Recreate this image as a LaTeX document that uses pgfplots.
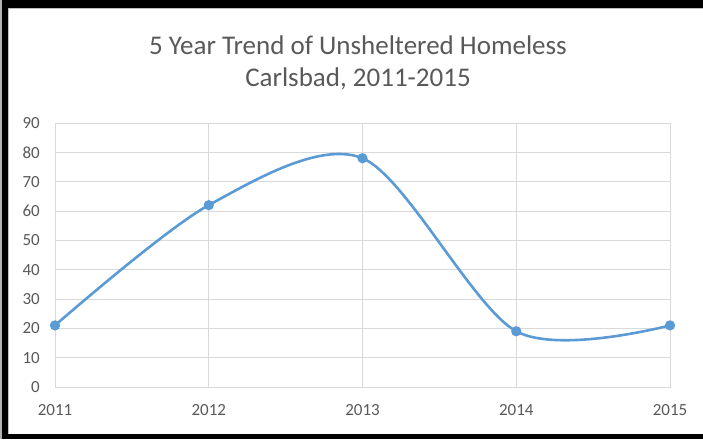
\documentclass[border=0pt]{standalone}
\usepackage{fontspec}
\setmainfont{Carlito}
\usepackage{pgfplots}
\pgfplotsset{compat=1.18}

\definecolor{lineblue}{RGB}{91,155,213}
\definecolor{gridgray}{RGB}{217,217,217}
\definecolor{textgray}{RGB}{89,89,89}

\begin{document}
\begin{tikzpicture}[x=1pt,y=1pt]
  \path[use as bounding box] (0,0) rectangle (703,439);
  % frame
  \fill[gray!60] (0,0) rectangle (2,439);
  \fill[black] (2,0) rectangle (8,439);
  \fill[black] (2,431) rectangle (703,439);
  \fill[black] (2,0) rectangle (703,5);
  \draw[gray!50, line width=1pt] (8.5,5) -- (8.5,430.5) -- (703,430.5);

  % title
  \node[text=textgray, font=\fontsize{27}{30}\selectfont] at (358,394) {5 Year Trend of Unsheltered Homeless};
  \node[text=textgray, font=\fontsize{27}{30}\selectfont] at (358,360) {Carlsbad, 2011-2015};

  \begin{axis}[
      at={(55pt,52pt)}, anchor=south west,
      scale only axis,
      width=615pt, height=264pt,
      xmin=2011, xmax=2015,
      ymin=0, ymax=90,
      xtick={2011,2012,2013,2014,2015},
      ytick={0,10,...,90},
      grid=major,
      major grid style={gridgray, line width=0.8pt},
      axis line style={gridgray, line width=0.8pt},
      major tick length=0pt,
      tick style={draw=none},
      clip=false,
      /pgf/number format/1000 sep={},
      /pgf/number format/assume math mode=true,
      ticklabel style={text=textgray, font=\fontsize{17}{20}\selectfont},
      xticklabel style={anchor=north, inner sep=0pt, yshift=-17pt},
      yticklabel style={anchor=east, inner sep=0pt, xshift=-15pt},
    ]
    \addplot[lineblue, line width=2.6pt, smooth, mark=none]
      coordinates {
        (2011,21)
        (2012,62)
        (2013,78)
        (2014,19)
        (2015,21)
      };
    \addplot[lineblue, only marks, mark=*, mark size=4.5pt,
             mark options={draw=lineblue, fill=lineblue, line width=1.2pt}]
      coordinates {
        (2011,21)
        (2012,62)
        (2013,78)
        (2014,19)
        (2015,21)
      };
  \end{axis}
\end{tikzpicture}
\end{document}
